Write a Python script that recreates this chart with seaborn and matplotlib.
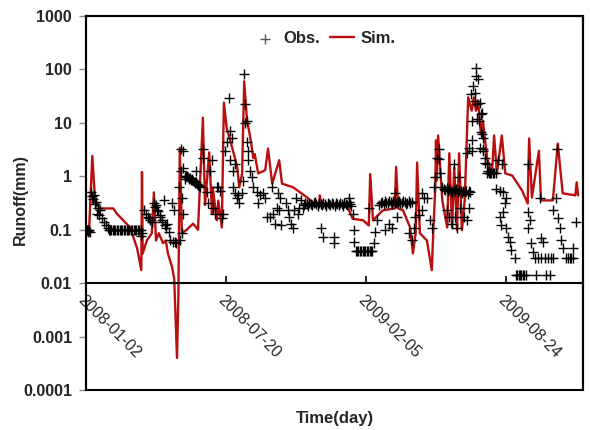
import numpy as np
import pandas as pd
import matplotlib
matplotlib.use("Agg")
import matplotlib.pyplot as plt
from matplotlib.patches import Rectangle
import seaborn as sns

# ---------------- data ----------------
start_date = "2008-01-02"
x_tick_labels = ["2008-01-02", "2008-07-20", "2009-02-05", "2009-08-24"]
y_ticks = [0.0001, 0.001, 0.01, 0.1, 1, 10, 100, 1000]
y_tick_labels = ["0.0001", "0.001", "0.01", "0.1", "1", "10", "100", "1000"]

# simulated runoff (day offset, mm)
sim_points = [(0,0.11),(4,0.075),(9,2.4),(13,0.35),(20,0.25),(39,0.25),(44,0.2),(63,0.11),
 (73,0.045),(79,0.0175),(80,1.2),(81,0.036),(87,0.063),(94,0.086),(97,0.5),(100,0.063),
 (104,0.086),(110,0.056),(114,0.063),(117,0.036),(123,0.02),(126,0.012),(130,0.0004),
 (132,0.006),(134,3.4),(137,0.086),(144,0.1),(153,0.13),(160,0.1),(167,12.5),(170,0.29),
 (176,2.8),(180,0.2),(181,0.62),(187,0.15),(189,0.35),(194,0.11),(197,24),(201,8),
 (206,4.7),(210,3.0),(216,1.5),(219,0.62),(223,1.13),(226,60),(230,11),(234,6),(239,2.2),
 (241,2.6),(246,1.13),(256,1.3),(260,3.3),(266,0.73),(276,2.0),(280,0.73),(296,0.62),
 (316,0.40),(324,0.32),(333,0.3),(334,0.44),(336,0.3),(367,0.28),(374,0.26),(381,0.16),
 (396,0.15),(404,0.12),(406,1.1),(410,0.15),(424,0.23),(441,0.25),(443,1.5),(446,0.25),
 (453,0.23),(463,0.11),(467,0.036),(471,0.086),(473,1.8),(477,0.086),(487,0.063),
 (494,0.0175),(496,0.086),(499,0.62),(500,4.7),(501,0.84),(503,5.8),(509,0.354),
 (516,0.11),(519,2.7),(523,0.11),(526,1.46),(530,0.098),(533,2.7),(537,0.098),
 (541,0.354),(546,30),(551,16.9),(554,30),(557,16.9),(560,26),(564,6.3),(567,11),
 (573,2.2),(580,1.13),(583,5.8),(587,1.13),(594,5.8),(599,1.13),(609,1.03),(623,0.54),
 (631,0.31),(633,5.1),(637,0.40),(647,3.0),(650,0.354),(667,0.354),(674,4.1),(681,0.48),
 (699,0.44),(701,0.77),(703,0.44)]

# observed runoff (day offset, mm)
obs_2008_spring = [(0,0.1),(1,0.1),(2,0.1),(3,0.095),(4,0.1),(5,0.09),(7,0.5),(8,0.42),
 (10,0.38),(11,0.45),(13,0.3),(14,0.33),(16,0.2),(17,0.25),(19,0.186),(20,0.23),(23,0.163),
 (26,0.137),(29,0.12),(31,0.106),(33,0.1),(34,0.1),(36,0.1),(38,0.1),(40,0.1),(42,0.1),
 (44,0.1),(46,0.1),(48,0.1),(50,0.1),(52,0.1),(54,0.1),(56,0.1),(58,0.1),(60,0.1),(62,0.1),
 (64,0.1),(66,0.1),(68,0.1),(70,0.1),(72,0.1),(74,0.1),(76,0.1),(78,0.1),(79,0.075),
 (80,0.086),(83,0.23),(86,0.2),(88,0.17),(90,0.163),(92,0.15),(94,0.137),(97,0.31),
 (99,0.27),(100,0.285),(102,0.23),(103,0.22),(105,0.19),(106,0.17),(108,0.15),(109,0.137),
 (111,0.354),(113,0.12),(114,0.11),(116,0.13),(118,0.09),(120,0.063),(123,0.31),(124,0.058),
 (126,0.23),(127,0.06),(129,0.056),(134,0.063),(133,0.62),(135,1.28),(136,3.3)]
obs_2008_summer = [(139,3.0),(139,1.46),(137,0.4),(139,0.2),(137,0.086),(141,0.95),(142,0.9),
 (143,1.0),(144,1.03),(146,0.95),(147,0.9),(148,0.93),(150,0.85),(151,0.84),(152,0.88),
 (153,0.8),(155,0.78),(156,0.75),(157,0.77),(158,0.72),(160,0.7),(161,0.66),(163,0.62),
 (157,1.28),(167,3.3),(167,2.2),(173,0.5),(174,0.31),(177,1.28),(180,2.0),(181,0.26),
 (184,0.2),(187,0.62),(189,0.62),(191,0.54),(194,0.163),(196,0.2),(199,3.0),(201,4.3),
 (204,29.5),(206,7.1),(209,5.3),(210,1.28),(206,2.0),(213,1.7),(210,0.62),(213,0.48),
 (216,0.4),(217,0.44),(219,0.31),(223,0.48),(224,0.8),(226,83),(227,22.8),(227,10.1),
 (230,11),(230,4.3),(231,3.0),(231,2.0),(234,1.28),(237,0.95),(239,0.62),(244,0.5),
 (246,0.31),(249,0.44),(253,0.48),(256,0.4),(259,0.17),(263,0.17),(266,0.62),(267,0.2),
 (270,0.13),(273,0.26),(274,0.48),(277,0.4)]
obs_2008_autumn = [(276,0.23),(279,0.12),(286,0.31),(289,0.23),(290,0.17),(293,0.13),
 (296,0.11),(297,0.23),(300,0.40),(303,0.2),(304,0.26),(307,0.354),(310,0.26),
 (311,0.29),(313,0.31),(315,0.3),(317,0.28),(319,0.32),(321,0.3),(323,0.29),(325,0.31),
 (327,0.33),(329,0.3),(331,0.28),(333,0.31),(335,0.3),(337,0.29),(339,0.32),(341,0.3),
 (343,0.28),(345,0.31),(347,0.3),(349,0.29),(351,0.32),(353,0.3),(355,0.28),(357,0.31),
 (359,0.3),(361,0.29),(363,0.32),(365,0.3),(367,0.28),(369,0.31),(371,0.3),(373,0.29),
 (375,0.33),(377,0.3),(379,0.28),(336,0.106),(339,0.072),(354,0.072),(354,0.056),
 (376,0.385),(381,0.2),(383,0.098),(383,0.058),(385,0.04),(387,0.04),(389,0.04),(391,0.04),
 (393,0.04),(395,0.04),(397,0.04),(399,0.04),(401,0.04),(403,0.04),(405,0.04),(407,0.04),
 (409,0.04),(404,0.26),(411,0.056)]
obs_2009_spring = [(413,0.089),(416,0.15),(419,0.285),(421,0.31),(423,0.33),(425,0.3),
 (427,0.34),(429,0.32),(431,0.31),(433,0.35),(435,0.33),(437,0.3),(439,0.34),(441,0.32),
 (443,0.31),(445,0.33),(447,0.35),(449,0.32),(451,0.31),(453,0.34),(455,0.33),(457,0.3),
 (459,0.32),(461,0.34),(463,0.31),(465,0.33),(427,0.098),(433,0.13),(437,0.11),(444,0.17),
 (441,0.48),(461,0.086),(466,0.063),(469,0.11),(470,0.17),(476,0.186),(480,0.23),(483,0.4),
 (487,0.4),(491,0.15),(494,0.106),(480,0.48),(497,0.62),(499,0.95),(501,2.2),(504,3.3),
 (504,2.15),(506,1.13),(509,0.62),(511,0.58),(513,0.55),(515,0.6),(517,0.52),(519,0.57),
 (521,0.54),(523,0.5),(525,0.56),(527,0.53),(529,0.58),(531,0.5),(533,0.55),(535,0.52),
 (537,0.48),(539,0.54),(541,0.5),(543,0.53),(545,0.47),(547,0.52),(549,0.5),
 (516,0.23),(519,0.17),(523,0.13),(527,0.17),(530,0.11),(534,0.26),(540,0.17),(544,0.15),
 (547,0.26),(526,1.73),(533,0.95),(544,2.7),(547,3.4),(551,4.7),(551,3.0)]
obs_2009_summer = [(557,107),(560,67),(553,49),(556,36.6),(563,23.8),(559,22.8),(566,15.5),
 (559,12),(566,6.3),(567,5.3),(563,3.4),(567,3.3),(570,2.2),(573,1.73),(574,1.28),(551,11),
 (561,11),(550,35),(556,26),(557,76),(564,14.8),(564,6.6),(567,3.0),(570,1.8),(573,1.13),
 (575,1.13),(577,1.13),(579,1.13),(581,1.13),(583,1.13),(585,1.13),(589,2.0),(594,1.73),
 (586,0.57),(591,0.54),(596,0.5),(600,0.4),(599,0.31),(596,0.21),(591,0.17),(593,0.12),
 (600,0.11),(603,0.072),(606,0.058),(607,0.041),(613,0.029),(614,0.014),(616,0.014),
 (618,0.014),(620,0.014),(622,0.014),(624,0.014),(626,0.014),(628,0.014),(631,1.73),
 (631,0.21),(634,0.15),(631,0.106),(636,0.056),(639,0.038),(641,0.029),(643,0.014),
 (649,0.385),(650,0.07),(653,0.058),(656,0.029),(657,0.014),(663,0.014),(667,0.029),
 (667,0.23),(673,3.3),(671,0.4),(674,0.163),(677,0.106),(679,0.063),(681,0.045),
 (686,0.029),(691,0.029),(696,0.029),(696,0.045),(700,0.137),(646,0.029),(650,0.029),
 (660,0.029),(664,0.029),(689,0.029),(693,0.029)]

# ---------------- build frames ----------------
t0 = pd.Timestamp(start_date)
obs_points = obs_2008_spring + obs_2008_summer + obs_2008_autumn + obs_2009_spring + obs_2009_summer
obs_df = pd.DataFrame(obs_points, columns=["day", "runoff"])
obs_df["date"] = t0 + pd.to_timedelta(obs_df["day"], unit="D")
sim_df = pd.DataFrame(sim_points, columns=["day", "runoff"])
sim_df["date"] = t0 + pd.to_timedelta(sim_df["day"], unit="D")

# ---------------- style ----------------
sns.set_style("white")
plt.rcParams["font.family"] = ["Liberation Sans", "DejaVu Sans"]

fig = plt.figure(figsize=(5.9, 4.3), dpi=100)
ax = fig.add_axes([86/590, 1-390/430, (583-86)/590, (390-16)/430])

sns.lineplot(data=sim_df, x="date", y="runoff", color="#b80f0f", linewidth=1.7,
             estimator=None, sort=False, ax=ax, label="Sim.", zorder=2)
sns.scatterplot(data=obs_df, x="date", y="runoff", marker="+", color="black", s=60,
                linewidth=1.0, ax=ax, label="Obs.", zorder=3)

ax.set_yscale("log")
ax.set_ylim(1e-4, 1e3)
ax.set_xlim(t0, t0 + pd.Timedelta(days=710))
ax.set_yticks(y_ticks)
ax.set_yticklabels(y_tick_labels)
ax.yaxis.set_minor_locator(matplotlib.ticker.NullLocator())
ax.tick_params(axis="y", direction="out", length=5, width=1, color="#888888",
               labelsize=11.5, pad=5, left=True, right=False)
for lab in ax.get_yticklabels():
    lab.set_fontweight("bold")

tick_dates = pd.to_datetime(x_tick_labels)
ax.set_xticks(tick_dates)
ax.set_xticklabels(x_tick_labels)
ax.xaxis.set_minor_locator(matplotlib.ticker.NullLocator())
ax.spines["bottom"].set_position(("data", 0.01))
ax.tick_params(axis="x", direction="in", length=5, width=1.2, color="black",
               labelsize=11.5, pad=7, bottom=True, top=False)
for lab in ax.get_xticklabels():
    lab.set_rotation(-45)
    lab.set_ha("left")
    lab.set_va("top")
    lab.set_rotation_mode("anchor")

for s in ["top", "right", "left", "bottom"]:
    ax.spines[s].set_color("black")
    ax.spines[s].set_linewidth(1.5)
    ax.spines[s].set_visible(True)
ax.add_patch(Rectangle((0, 0), 1, 1, transform=ax.transAxes, fill=False,
                       edgecolor="black", linewidth=1.5, clip_on=False, zorder=5))

ax.set_ylabel("Runoff(mm)", fontsize=11.5, fontweight="bold")
ax.yaxis.set_label_coords(-0.117, 0.51)
ax.set_xlabel("")
fig.text((86+583)/2/590, 1-419/430, "Time(day)", ha="center", va="center",
         fontsize=12, fontweight="bold")

handles, labels = ax.get_legend_handles_labels()
order = [labels.index("Obs."), labels.index("Sim.")]
leg = ax.legend([handles[i] for i in order], [labels[i] for i in order],
                loc="upper center", bbox_to_anchor=(0.48, 1.0), ncol=2, frameon=False,
                prop={"weight": "bold", "size": 12}, handlelength=1.4,
                handletextpad=0.4, columnspacing=0.6)
leg.legend_handles[0].set_color("#555555")

fig.savefig("out.png", dpi=100)
